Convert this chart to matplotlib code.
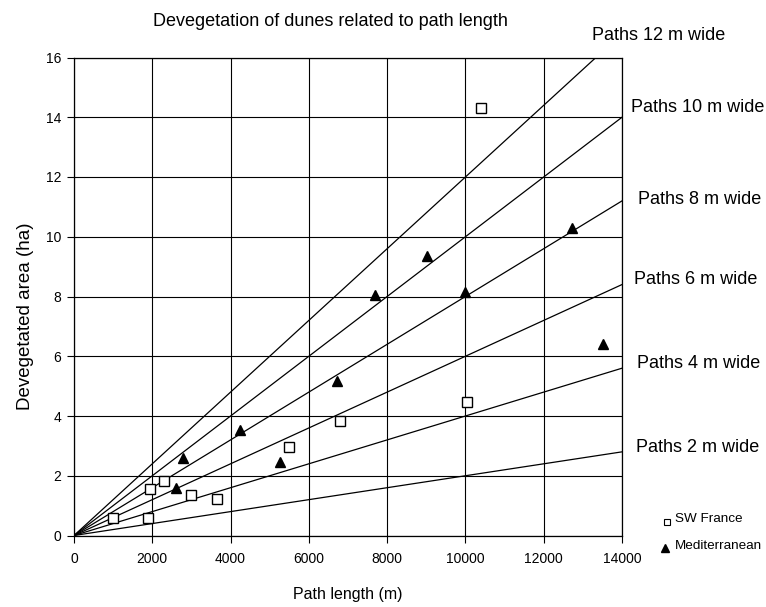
import matplotlib
matplotlib.use("Agg")
import matplotlib.pyplot as plt
import numpy as np

plt.rcParams['font.family'] = ['Liberation Sans', 'DejaVu Sans']

# SW France sites (squares)
sw_length = [1000, 1900, 1950, 2300, 3000, 3650, 5500, 6800, 10030, 10400]
sw_area = [0.6, 0.6, 1.55, 1.82, 1.37, 1.22, 2.97, 3.82, 4.48, 14.3]

# Mediterranean sites (triangles)
med_length = [2600, 2780, 4250, 5260, 6730, 7700, 9030, 9990, 12730, 13520]
med_area = [1.58, 2.58, 3.53, 2.47, 5.18, 8.05, 9.37, 8.16, 10.3, 6.4]

# reference lines: path width (m) and area (ha) reached at 14000 m
widths = [2, 4, 6, 8, 10, 12]
area_at_end = [2.8, 5.6, 8.4, 11.2, 14.0, 16.8]
line_end_x = 14000

W, H = 766, 607
fig = plt.figure(figsize=(W / 100, H / 100), dpi=100)
ax = fig.add_axes([74 / W, 1 - 535.5 / H, 548 / W, 478 / H])

# path width lines
for a in area_at_end:
    ax.plot([0, line_end_x], [0, a], color='black', lw=0.9, zorder=2)

ax.plot(sw_length, sw_area, linestyle='none', marker='s', ms=6.5,
        mfc='white', mec='black', mew=1.0, zorder=3)
ax.plot(med_length, med_area, linestyle='none', marker='^', ms=7,
        color='black', zorder=3)

ax.set_xlim(0, 14000)
ax.set_ylim(0, 16)
ax.set_xticks(np.arange(0, 14001, 2000))
ax.set_yticks(np.arange(0, 17, 2))
ax.grid(True, color='black', lw=0.8)
ax.set_axisbelow(True)
ax.tick_params(labelsize=10, direction='out', length=5, width=0.8, colors='black')
ax.tick_params(axis='x', pad=7)
ax.tick_params(axis='y', pad=4)
for s in ax.spines.values():
    s.set_color('black')
    s.set_linewidth(0.9)

# axis labels and title
fig.text(348 / W, 1 - 595 / H, 'Path length (m)', fontsize=11.5, ha='center', va='center')
fig.text(25 / W, 1 - 316 / H, 'Devegetated area (ha)', fontsize=13.5, rotation=90,
         ha='center', va='center')
fig.text(330 / W, 1 - 22 / H, 'Devegetation of dunes related to path length',
         fontsize=13, ha='center', va='center')

# line labels (right of the plot)
label_pos = {12: (592, 35), 10: (631, 107), 8: (638, 200),
             6: (634, 280), 4: (637, 363), 2: (636, 448)}
for w in widths:
    px, py = label_pos[w]
    fig.text(px / W, 1 - py / H, 'Paths %d m wide' % w,
             fontsize=13, ha='left', va='center')

# legend
fig.lines.append(plt.Line2D([667 / W], [1 - 522 / H], transform=fig.transFigure,
                            marker='s', ms=5, mfc='white', mec='black', mew=0.8,
                            linestyle='none'))
fig.lines.append(plt.Line2D([665 / W], [1 - 548 / H], transform=fig.transFigure,
                            marker='^', ms=5.5, color='black', linestyle='none'))
fig.text(675 / W, 1 - 519 / H, 'SW France', fontsize=9.7, ha='left', va='center')
fig.text(675 / W, 1 - 546 / H, 'Mediterranean', fontsize=9.7, ha='left', va='center')

fig.savefig('out.png', dpi=100)
